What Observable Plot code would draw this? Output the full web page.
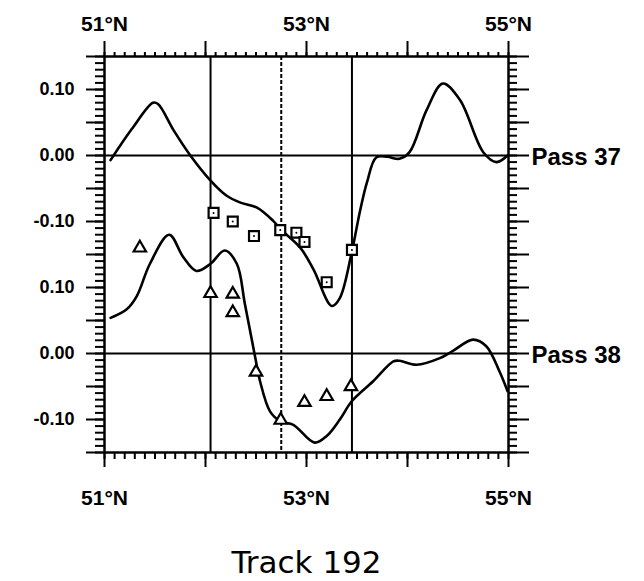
<!DOCTYPE html>
<html>
<head>
<meta charset="utf-8">
<script src="https://cdn.jsdelivr.net/npm/d3@7"></script>
<script src="https://cdn.jsdelivr.net/npm/@observablehq/plot@0.6"></script>
<style>
  html, body { margin: 0; padding: 0; background: #fff; }
  #wrap { position: relative; width: 644px; height: 581px; overflow: hidden; }
  #title { position: absolute; left: 0; top: 544px; width: 613px; text-align: center;
           font-family: "DejaVu Sans", sans-serif; font-size: 31px; line-height: normal; color: #000; }
</style>
</head>
<body>
<div id="wrap"><div id="chart"></div><div id="title">Track 192</div></div>
<script>
// ---- data ----
const pass37Offset = 0.3;           // Pass 37 panel plotted 0.30 above Pass 38
const pass37Lat = [51.06, 51.27, 51.48, 51.53, 51.685, 51.85, 52.05, 52.21, 52.34, 52.51, 52.67, 52.745, 52.94, 53.07, 53.25, 53.33, 53.45, 53.53, 53.60, 53.69, 53.80, 53.92, 54.02, 54.19, 54.35, 54.52, 54.75, 54.88, 54.99];
const pass37Val = [-0.007, 0.040, 0.080, 0.078, 0.038, 0.000, -0.038, -0.061, -0.071, -0.079, -0.099, -0.112, -0.140, -0.173, -0.228, -0.216, -0.145, -0.084, -0.040, -0.003, -0.002, -0.005, 0.005, 0.069, 0.109, 0.084, 0.005, -0.010, 0.000];
const pass38Lat = [51.06, 51.22, 51.32, 51.45, 51.64, 51.78, 51.91, 52.05, 52.19, 52.31, 52.39, 52.50, 52.54, 52.64, 52.745, 52.87, 53.08, 53.20, 53.33, 53.45, 53.66, 53.86, 53.92, 54.09, 54.32, 54.45, 54.65, 54.78, 54.91, 54.99];
const pass38Val = [0.054, 0.067, 0.087, 0.136, 0.180, 0.146, 0.125, 0.136, 0.156, 0.136, 0.075, -0.012, -0.042, -0.088, -0.103, -0.108, -0.135, -0.125, -0.100, -0.072, -0.042, -0.012, -0.011, -0.017, -0.007, 0.004, 0.021, 0.011, -0.027, -0.057];
const squareLat = [52.08, 52.27, 52.48, 52.74, 52.90, 52.98, 53.20, 53.45];
const squareVal = [-0.087, -0.100, -0.122, -0.113, -0.117, -0.131, -0.192, -0.143];
const triangleLat = [51.35, 52.05, 52.27, 52.27, 52.50, 52.745, 52.98, 53.20, 53.44];
const triangleVal = [0.160, 0.091, 0.090, 0.062, -0.028, -0.101, -0.074, -0.065, -0.050];
const solidLines = [52.05, 53.45];
const dashedLines = [52.75];
const yTickValues = [0.4, 0.3, 0.2, 0.1, 0.0, -0.1];
const yTickLabels = ["0.10", "0.00", "-0.10", "0.10", "0.00", "-0.10"];
const passNames = ["Pass 37", "Pass 38"];
const passZero = [pass37Offset, 0];
const latTicks = [51, 53, 55];
const latLabels = ["51°N", "53°N", "55°N"];

// ---- derived tables ----
const curve37 = pass37Lat.map((x, i) => ({x, y: pass37Val[i] + pass37Offset}));
const curve38 = pass38Lat.map((x, i) => ({x, y: pass38Val[i]}));
const squares = squareLat.map((x, i) => ({x, y: squareVal[i] + pass37Offset}));
const triangles = triangleLat.map((x, i) => ({x, y: triangleVal[i]}));
const yLabels = yTickValues.map((v, i) => ({v, t: yTickLabels[i]}));
const passLab = passNames.map((t, i) => ({v: passZero[i], t}));
const latLab = latTicks.map((v, i) => ({v, t: latLabels[i]}));
const yMinor = d3.range(-15, 46).map(i => i / 100);
const yMajor = d3.range(-3, 10).map(i => i * 0.05);
const xMinor = d3.range(510, 551).map(i => i / 10);
const xMajor = [51, 52, 53, 54, 55];

const bold = {fontWeight: "bold", fill: "black"};
const tk = {fill: "none", label: null, stroke: "black", strokeWidth: 2};

const chart = Plot.plot({
  width: 644, height: 530,
  marginLeft: 104, marginRight: 136, marginTop: 56, marginBottom: 78,
  style: {fontFamily: "'Liberation Sans', Arial, sans-serif", background: "white", color: "black"},
  x: {domain: [51, 55], axis: null},
  y: {domain: [-0.15, 0.45], axis: null},
  marks: [
    Plot.axisY({...tk, anchor: "left", ticks: yMinor, tickSize: 9}),
    Plot.axisY({...tk, anchor: "left", ticks: yMajor, tickSize: 18}),
    Plot.axisY({...tk, anchor: "right", ticks: yMinor, tickSize: 8}),
    Plot.axisY({...tk, anchor: "right", ticks: yMajor, tickSize: 20}),
    Plot.axisX({...tk, anchor: "top", ticks: xMinor, tickSize: 5}),
    Plot.axisX({...tk, anchor: "top", ticks: xMajor, tickSize: 16}),
    Plot.axisX({...tk, anchor: "bottom", ticks: xMinor, tickSize: 7}),
    Plot.axisX({...tk, anchor: "bottom", ticks: xMajor, tickSize: 15}),
    Plot.ruleY(passZero, {stroke: "black", strokeWidth: 2}),
    Plot.ruleX(solidLines, {stroke: "black", strokeWidth: 2}),
    Plot.ruleX(dashedLines, {stroke: "black", strokeWidth: 2, strokeDasharray: "4,2"}),
    Plot.line(curve37, {x: "x", y: "y", curve: "catmull-rom", stroke: "black", strokeWidth: 2.6}),
    Plot.line(curve38, {x: "x", y: "y", curve: "catmull-rom", stroke: "black", strokeWidth: 2.6}),
    Plot.dot(squares, {x: "x", y: "y", symbol: "square", r: 5.6, stroke: "black", strokeWidth: 2.2, fill: "white"}),
    Plot.dot(squares, {x: "x", y: "y", r: 1, fill: "black"}),
    Plot.dot(triangles, {x: "x", y: "y", symbol: "triangle", r: 4.6, stroke: "black", strokeWidth: 2.2, fill: "white"}),
    Plot.frame({stroke: "black", strokeWidth: 2.5}),
    Plot.text(yLabels, {y: "v", text: "t", frameAnchor: "left", textAnchor: "end", dx: -30, fontSize: 18, ...bold}),
    Plot.text(passLab, {y: "v", text: "t", frameAnchor: "right", textAnchor: "start", dx: 23, dy: 2, fontSize: 24, ...bold}),
    Plot.text(latLab, {x: "v", text: "t", frameAnchor: "top", lineAnchor: "bottom", dy: -26, fontSize: 21, ...bold}),
    Plot.text(latLab, {x: "v", text: "t", frameAnchor: "bottom", lineAnchor: "top", dy: 38, fontSize: 21, ...bold})
  ]
});
document.getElementById("chart").appendChild(chart);
</script>
</body>
</html>
